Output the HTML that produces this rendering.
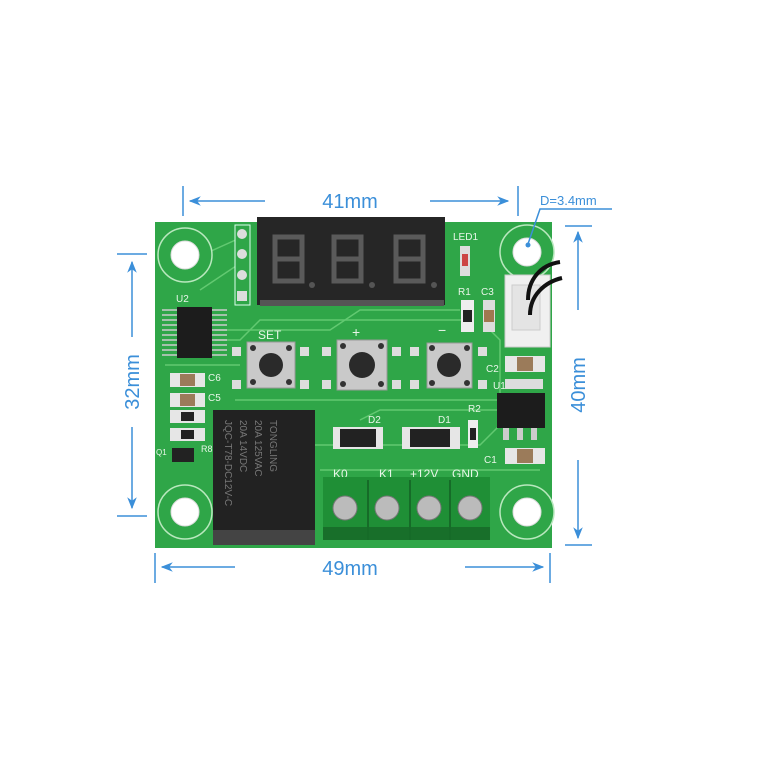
<!DOCTYPE html>
<html><head><meta charset="utf-8"><style>
html,body{margin:0;padding:0;background:#fff;}
svg{display:block;}
text{font-family:"Liberation Sans",sans-serif;}
</style></head><body>
<svg width="774" height="780" viewBox="0 0 774 780" xmlns="http://www.w3.org/2000/svg">
<defs>
<marker id="ar" viewBox="0 0 10 10" refX="9" refY="5" markerWidth="8" markerHeight="8" orient="auto-start-reverse"><path d="M0,1 L10,5 L0,9 L3,5 Z" fill="#3b8fd9"/></marker>
</defs>
<!-- Board -->
<rect x="155" y="222" width="397" height="326" fill="#2fa648"/>
<g stroke="#6fd27c" stroke-width="1.5" fill="none" opacity="0.8">
<path d="M215,330 L330,330 L360,310 L460,310"/>
<path d="M215,340 L240,340 L260,320 L470,320"/>
<path d="M165,365 L240,365"/>
<path d="M235,400 L500,400"/>
<path d="M360,420 L380,410 L500,410"/>
<path d="M305,455 L310,445 L480,445 L500,425"/>
<path d="M490,330 L500,340 L500,400"/>
<path d="M180,265 L240,238"/>
<path d="M200,290 L245,260"/>
<path d="M320,470 L540,470"/>
</g>
<!-- Mount holes -->
<g fill="#2fa648" stroke="#b9e8be" stroke-width="1.5">
<circle cx="185" cy="255" r="27"/><circle cx="527" cy="252" r="27"/>
<circle cx="185" cy="512" r="27"/><circle cx="527" cy="512" r="27"/>
</g>
<g fill="#fff" stroke="#ddd"><circle cx="185" cy="255" r="14"/><circle cx="527" cy="252" r="14"/><circle cx="185" cy="512" r="14"/><circle cx="527" cy="512" r="14"/></g>
<!-- header pins -->
<rect x="235" y="225" width="15" height="80" fill="#2fa648" stroke="#dfe" stroke-width="1"/>
<g fill="#ddd"><circle cx="242" cy="234" r="5"/><circle cx="242" cy="254" r="5"/><circle cx="242" cy="275" r="5"/><rect x="237" y="291" width="10" height="10"/></g>
<!-- Display -->
<rect x="257" y="217" width="188" height="88" fill="#262626"/>
<rect x="260" y="300" width="184" height="6" fill="#555"/>
<g fill="none" stroke="#5a5a5a" stroke-width="5" stroke-linecap="square">
<path d="M275,237 h27 v44 h-27 z M275,259 h27"/>
<path d="M334,237 h27 M334,259 h27 M334,281 h27 M334,237 v44 M361,237 v44"/>
<path d="M396,237 h27 v44 h-27 z M396,259 h27"/>
</g>
<g fill="#555"><circle cx="312" cy="285" r="3"/><circle cx="372" cy="285" r="3"/><circle cx="434" cy="285" r="3"/></g>
<!-- labels -->
<g fill="#e8f6e8" font-size="10">
<text x="453" y="240">LED1</text><text x="458" y="295">R1</text><text x="481" y="295">C3</text>
<text x="176" y="302">U2</text><text x="208" y="381">C6</text><text x="208" y="401">C5</text>
<text x="468" y="412">R2</text><text x="368" y="423">D2</text><text x="438" y="423">D1</text>
<text x="486" y="372">C2</text><text x="493" y="389">U1</text><text x="484" y="463">C1</text>
<text x="156" y="455" font-size="8">Q1</text><text x="201" y="452" font-size="9">R8</text>
<text x="258" y="339" font-size="12">SET</text><text x="352" y="337" font-size="14">+</text><text x="438" y="335" font-size="14">−</text>
<text x="333" y="478" font-size="12">K0</text><text x="379" y="478" font-size="12">K1</text><text x="410" y="478" font-size="12">+12V</text><text x="452" y="478" font-size="12">GND</text>
</g>
<!-- LED, R1, C3 -->
<rect x="460" y="246" width="10" height="30" fill="#ddd"/><rect x="462" y="254" width="6" height="12" fill="#c44"/>
<rect x="461" y="300" width="13" height="32" fill="#eee"/><rect x="463" y="310" width="9" height="12" fill="#222"/>
<rect x="483" y="300" width="12" height="32" fill="#ddd"/><rect x="484" y="310" width="10" height="12" fill="#a07850"/>
<!-- connector & wires -->
<rect x="505" y="275" width="45" height="72" fill="#f0f0f0" stroke="#ccc"/>
<rect x="512" y="285" width="28" height="45" fill="#e4e4e4" stroke="#ccc"/>
<path d="M528,300 C528,280 540,265 560,262" stroke="#111" stroke-width="4" fill="none"/>
<path d="M530,315 C530,295 545,282 562,278" stroke="#111" stroke-width="4" fill="none"/>
<!-- U2 chip -->
<rect x="177" y="307" width="35" height="51" fill="#1c1c1c"/>
<g stroke="#ccc" stroke-width="1.5">
<path d="M162,310h15M162,315h15M162,320h15M162,325h15M162,330h15M162,335h15M162,340h15M162,345h15M162,350h15M162,355h15"/>
<path d="M212,310h15M212,315h15M212,320h15M212,325h15M212,330h15M212,335h15M212,340h15M212,345h15M212,350h15M212,355h15"/>
</g>
<!-- left passives -->
<g fill="#e6e6e6"><rect x="170" y="373" width="35" height="14"/><rect x="170" y="393" width="35" height="14"/><rect x="170" y="410" width="35" height="13"/><rect x="170" y="428" width="35" height="13"/></g>
<g fill="#9b7b5a"><rect x="180" y="374" width="15" height="12"/><rect x="180" y="394" width="15" height="12"/></g>
<g fill="#222"><rect x="181" y="412" width="13" height="9"/><rect x="181" y="430" width="13" height="9"/><rect x="172" y="448" width="22" height="14"/></g>
<!-- Buttons -->
<g>
<rect x="247" y="342" width="48" height="46" fill="#c9c9c9" stroke="#999"/><circle cx="271" cy="365" r="12" fill="#2a2a2a"/>
<rect x="337" y="340" width="50" height="50" fill="#c9c9c9" stroke="#999"/><circle cx="362" cy="365" r="13" fill="#2a2a2a"/>
<rect x="427" y="343" width="45" height="45" fill="#c9c9c9" stroke="#999"/><circle cx="449" cy="365" r="12" fill="#2a2a2a"/>
</g>
<g fill="#333"><circle cx="253" cy="348" r="3"/><circle cx="289" cy="348" r="3"/><circle cx="253" cy="382" r="3"/><circle cx="289" cy="382" r="3"/>
<circle cx="343" cy="346" r="3"/><circle cx="381" cy="346" r="3"/><circle cx="343" cy="384" r="3"/><circle cx="381" cy="384" r="3"/>
<circle cx="432" cy="348" r="3"/><circle cx="467" cy="348" r="3"/><circle cx="432" cy="383" r="3"/><circle cx="467" cy="383" r="3"/></g>
<g fill="#ddd"><rect x="232" y="347" width="9" height="9"/><rect x="300" y="347" width="9" height="9"/><rect x="322" y="347" width="9" height="9"/><rect x="392" y="347" width="9" height="9"/><rect x="410" y="347" width="9" height="9"/><rect x="478" y="347" width="9" height="9"/>
<rect x="232" y="380" width="9" height="9"/><rect x="300" y="380" width="9" height="9"/><rect x="322" y="380" width="9" height="9"/><rect x="392" y="380" width="9" height="9"/><rect x="410" y="380" width="9" height="9"/><rect x="478" y="380" width="9" height="9"/></g>
<!-- right passives / U1 -->
<rect x="505" y="356" width="40" height="16" fill="#e6e6e6"/><rect x="517" y="357" width="16" height="14" fill="#9b7b5a"/>
<rect x="505" y="379" width="38" height="10" fill="#ddd"/>
<rect x="497" y="393" width="48" height="35" fill="#1c1c1c"/>
<g fill="#ccc"><rect x="503" y="428" width="6" height="12"/><rect x="517" y="428" width="6" height="12"/><rect x="531" y="428" width="6" height="12"/></g>
<rect x="505" y="448" width="40" height="16" fill="#e6e6e6"/><rect x="517" y="449" width="16" height="14" fill="#9b7b5a"/>
<rect x="468" y="420" width="10" height="28" fill="#eee"/><rect x="470" y="428" width="6" height="12" fill="#222"/>
<!-- diodes -->
<rect x="333" y="427" width="50" height="22" fill="#e6e6e6"/><rect x="340" y="429" width="36" height="18" fill="#222"/>
<rect x="402" y="427" width="58" height="22" fill="#e6e6e6"/><rect x="410" y="429" width="40" height="18" fill="#222"/>
<!-- Relay -->
<rect x="213" y="410" width="102" height="135" fill="#222"/>
<rect x="213" y="530" width="102" height="15" fill="#444"/>
<g fill="#777" font-size="10" transform="translate(240,420) rotate(90)">
<text x="0" y="-30">TONGLING</text><text x="0" y="-15">20A 125VAC</text><text x="0" y="0">20A 14VDC</text><text x="0" y="15">JQC-T78-DC12V-C</text>
</g>
<!-- Terminal block -->
<rect x="323" y="477" width="167" height="63" fill="#1f8f36"/>
<rect x="323" y="527" width="167" height="13" fill="#186f2a"/>
<g stroke="#166b28" stroke-width="2"><path d="M368,480v60M410,480v60M450,480v60"/></g>
<g fill="#bbb" stroke="#777"><circle cx="345" cy="508" r="12"/><circle cx="387" cy="508" r="12"/><circle cx="429" cy="508" r="12"/><circle cx="470" cy="508" r="12"/></g>
<!-- Dimensions -->
<g stroke="#3b8fd9" stroke-width="1.5" fill="none">
<path d="M183,186v30M518,186v30"/>
<path d="M265,201H190" marker-end="url(#ar)"/><path d="M430,201H508" marker-end="url(#ar)"/>
<path d="M117,254h30M117,516h30"/>
<path d="M132,337V262" marker-end="url(#ar)"/><path d="M132,427V508" marker-end="url(#ar)"/>
<path d="M565,226h27M565,545h27"/>
<path d="M578,310V232" marker-end="url(#ar)"/><path d="M578,460V538" marker-end="url(#ar)"/>
<path d="M155,553v30M550,553v30"/>
<path d="M235,567H162" marker-end="url(#ar)"/><path d="M465,567H543" marker-end="url(#ar)"/>
<path d="M612,209H540L528,244"/>
</g>
<circle cx="528" cy="245" r="2.5" fill="#3b8fd9"/>
<g fill="#3b8fd9">
<text x="350" y="208" font-size="20" text-anchor="middle">41mm</text>
<text x="540" y="205" font-size="13">D=3.4mm</text>
<text x="350" y="575" font-size="20" text-anchor="middle">49mm</text>
<text transform="translate(139,382) rotate(-90)" font-size="20" text-anchor="middle">32mm</text>
<text transform="translate(585,385) rotate(-90)" font-size="20" text-anchor="middle">40mm</text>
</g>
</svg>
</body></html>
